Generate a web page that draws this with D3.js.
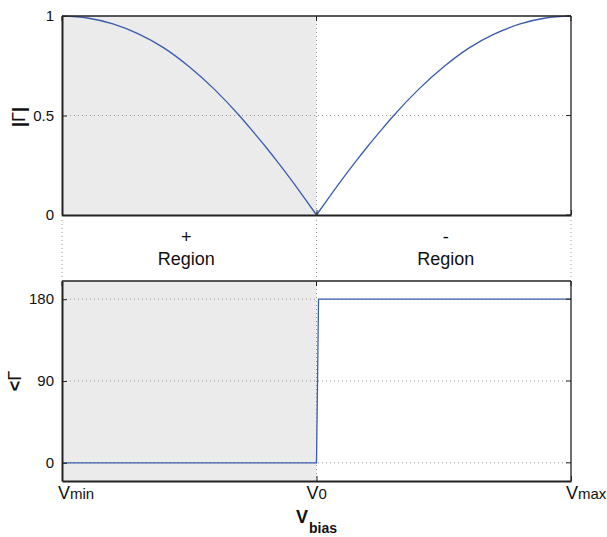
<!DOCTYPE html>
<html><head><meta charset="utf-8">
<script src="https://cdn.jsdelivr.net/npm/d3@7"></script>
<style>body{margin:0;background:#fff}svg{display:block;font-family:"Liberation Sans",Arial,sans-serif}</style>
</head><body><svg id="c" width="607" height="537"></svg>
<script>
// normalized bias: Vmin=-1, V0=0, Vmax=1
const vbias = [-1,-0.9,-0.8,-0.7,-0.6,-0.5,-0.4,-0.3,-0.25,-0.2,-0.15,-0.1,-0.05,0,0.05,0.1,0.15,0.2,0.25,0.3,0.4,0.5,0.6,0.7,0.8,0.9,1];
const gammaMag = [1,0.99,0.96,0.91,0.84,0.745,0.63,0.495,0.42,0.343,0.262,0.178,0.09,0,0.09,0.178,0.262,0.343,0.42,0.495,0.63,0.745,0.84,0.91,0.96,0.99,1];
const phaseBias = [-1,0,0.008,1];
const gammaPhase = [0,0,180,180];
const xTickVals = [-1,0,1];
const xTickLabels = [["V","min"],["V","0"],["V","max"]];
const magTicks = [0,0.5,1];
const magTickLabels = ["0","0.5","1"];
const phaseTicks = [0,90,180];
const phaseTickLabels = ["0","90","180"];
const regionSigns = ["+","-"];
const regionLabel = "Region";

const svg = d3.select("#c");
const L=62,R=571;
const x = d3.scaleLinear().domain([-1,1]).range([L,R]);
const yT = d3.scaleLinear().domain([0,1]).range([215,16]);
const yB = d3.scaleLinear().domain([-20,200]).range([481,281]);
const blue="#3a5cad", grid="#9a9a9a", shade="#ebebeb", ax="#222";

function panel(y, ticks, labels, yv, xs, curve, split){
  const [b,t]=y.range();
  svg.append("rect").attr("x",x(-1)).attr("y",t).attr("width",x(0)-x(-1)).attr("height",b-t).attr("fill",shade);
  ticks.forEach(v=>{ if(y(v)>t+1 && y(v)<b-1) svg.append("line").attr("x1",L).attr("x2",R).attr("y1",y(v)).attr("y2",y(v)).attr("stroke",grid).attr("stroke-dasharray","1,3"); });
  svg.append("line").attr("x1",x(0)).attr("x2",x(0)).attr("y1",t).attr("y2",b).attr("stroke",grid).attr("stroke-dasharray","1,3");
  const pts=d3.zip(xs,yv);
  const segs = split ? [pts.filter(d=>d[0]<=0), pts.filter(d=>d[0]>=0)] : [pts];
  const ln=d3.line().x(d=>x(d[0])).y(d=>y(d[1])).curve(curve);
  segs.forEach(s=>svg.append("path").datum(s).attr("fill","none").attr("stroke",blue).attr("stroke-width",1.3).attr("stroke-linejoin","miter").attr("d",ln));
  svg.append("line").attr("x1",L).attr("x2",R).attr("y1",t).attr("y2",t).attr("stroke",ax).attr("stroke-width",1.3);
  svg.append("line").attr("x1",R).attr("x2",R).attr("y1",t).attr("y2",b).attr("stroke",ax).attr("stroke-width",1.3);
  const la = svg.append("g").attr("transform",`translate(${L},0)`).call(d3.axisLeft(y).tickValues(ticks).tickFormat((d,i)=>labels[i]).tickSizeInner(-5).tickSizeOuter(0).tickPadding(8));
  la.select(".domain").attr("stroke",ax).attr("stroke-width",2);
  la.selectAll(".tick line").attr("stroke",ax);
  la.selectAll("text").attr("font-size",15).attr("fill","#111").attr("font-family","Liberation Sans, Arial, sans-serif");
  ticks.forEach(v=>svg.append("line").attr("x1",R).attr("x2",R-5).attr("y1",y(v)).attr("y2",y(v)).attr("stroke",ax));
  const ba = svg.append("g").attr("transform",`translate(0,${b})`).call(d3.axisBottom(x).tickValues(xTickVals).tickFormat("").tickSizeInner(-5).tickSizeOuter(0));
  ba.select(".domain").attr("stroke",ax).attr("stroke-width",2);
  ba.selectAll(".tick line").attr("stroke",ax);
  xTickVals.forEach(v=>svg.append("line").attr("x1",x(v)).attr("x2",x(v)).attr("y1",t).attr("y2",t+5).attr("stroke",ax));
}
panel(yT, magTicks, magTickLabels, gammaMag, vbias, d3.curveMonotoneX, true);
panel(yB, phaseTicks, phaseTickLabels, gammaPhase, phaseBias, d3.curveLinear, false);

xTickVals.forEach(v=>svg.append("line").attr("x1",x(v)).attr("x2",x(v)).attr("y1",216).attr("y2",280).attr("stroke",grid).attr("stroke-dasharray","1,3"));
const mids=[(x(-1)+x(0))/2-3,(x(0)+x(1))/2+2];
regionSigns.forEach((s,i)=>{
  svg.append("text").attr("x",mids[i]).attr("y",243).attr("text-anchor","middle").attr("font-size",18).attr("fill","#111").text(s);
  svg.append("text").attr("x",mids[i]).attr("y",265).attr("text-anchor","middle").attr("font-size",18).attr("fill","#111").text(regionLabel);
});

const offs=[-4,-10,-5];
xTickVals.forEach((v,i)=>{
  const t=svg.append("text").attr("x",x(v)+offs[i]).attr("y",499).attr("fill","#111");
  t.append("tspan").attr("font-size",18).text(xTickLabels[i][0]);
  t.append("tspan").attr("font-size",15).text(xTickLabels[i][1]);
});
const xl=svg.append("text").attr("x",296).attr("y",523).attr("font-weight","bold").attr("fill","#111");
xl.append("tspan").attr("font-size",18).text("V");
xl.append("tspan").attr("font-size",14).attr("dy",10).attr("dx",1).text("bias");

const y1=svg.append("text").attr("transform","translate(25,117) rotate(-90)").attr("text-anchor","middle").attr("font-size",18).attr("fill","#111");
y1.append("tspan").attr("font-weight","bold").text("|");
y1.append("tspan").text("Γ");
y1.append("tspan").attr("font-weight","bold").text("|");
const y2=svg.append("text").attr("transform","translate(21,381) rotate(-90)").attr("text-anchor","middle").attr("font-size",18).attr("fill","#111");
y2.append("tspan").attr("font-weight","bold").text("<");
y2.append("tspan").text("Γ");
</script></body></html>
